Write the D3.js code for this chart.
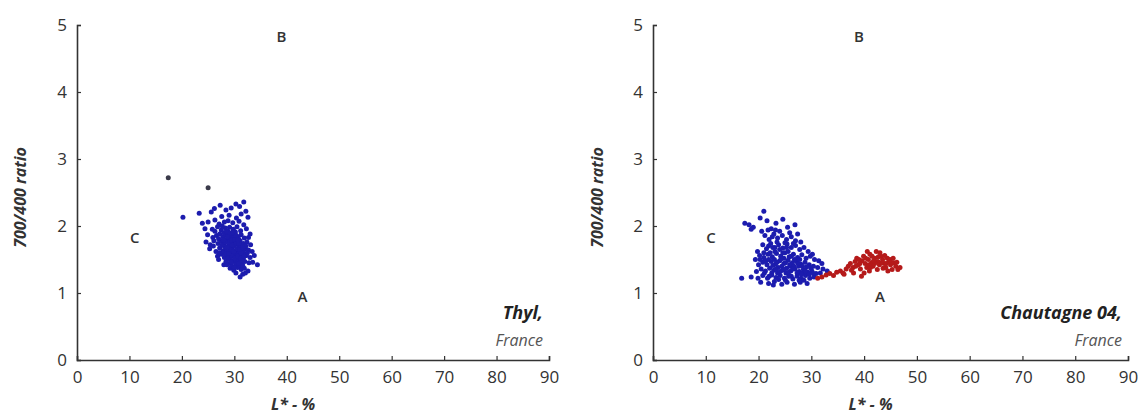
<!DOCTYPE html>
<html><head><meta charset="utf-8">
<script src="https://cdn.jsdelivr.net/npm/d3@7"></script>
<style>body{margin:0;background:#fff}svg{display:block}text{font-family:"Open Sans",sans-serif}</style>
</head><body>
<script>
const xTicks = [0,10,20,30,40,50,60,70,80,90];
const yTicks = [0,1,2,3,4,5];
const xTitle = "L* - %";
const yTitle = "700/400 ratio";
const sites = ["Thyl,", "Chautagne 04,"];
const country = "France";
const zoneLabels = [["B",39,4.8],["C",11,1.8],["A",43,0.93]];

const thylOutliers = [[17.4,2.72],[25.0,2.57]];
const thylBlue = [
[27.3,2.31],[30.3,2.33],[31.0,2.29],[31.8,2.36],[26.2,2.26],[29.4,2.27],[32.2,2.22],
[23.3,2.19],[25.6,2.21],[28.4,2.24],[31.3,2.18],[32.6,2.13],[29.0,2.16],[27.6,2.14],[30.4,2.12],
[20.2,2.13],[23.9,2.04],[25.0,2.06],[26.3,2.09],[28.1,2.06],[28.8,2.08],[29.7,2.05],[30.9,2.07],[31.8,2.02],[27.1,2.03],
[24.4,1.96],[25.8,1.95],[26.8,1.99],[27.5,1.94],[28.3,1.97],[29.1,1.98],[29.8,1.95],[30.5,1.99],[31.2,1.93],[32.3,1.96],[33.0,1.88],[28.8,1.92],
[24.9,1.87],[25.9,1.83],[26.6,1.86],[27.2,1.88],[27.8,1.84],[28.5,1.87],[29.2,1.85],[29.9,1.88],[30.6,1.84],[31.3,1.87],[31.9,1.82],[32.7,1.83],[28.0,1.90],[30.2,1.91],
[24.6,1.76],[25.4,1.72],[26.1,1.78],[26.9,1.74],[27.5,1.77],[28.1,1.73],[28.7,1.78],[29.3,1.75],[29.9,1.77],[30.5,1.73],[31.1,1.78],[31.7,1.74],[32.4,1.76],[33.1,1.72],[28.4,1.80],[30.8,1.81],
[25.3,1.66],[26.5,1.62],[27.2,1.67],[27.8,1.63],[28.4,1.66],[29.0,1.64],[29.6,1.68],[30.2,1.63],[30.8,1.67],[31.4,1.62],[32.0,1.66],[32.7,1.64],[33.4,1.62],[26.0,1.70],[29.3,1.70],[31.1,1.70],
[26.8,1.55],[27.5,1.58],[28.1,1.53],[28.7,1.57],[29.3,1.54],[29.9,1.58],[30.5,1.53],[31.1,1.57],[31.7,1.52],[32.3,1.56],[33.0,1.53],[33.8,1.56],[27.9,1.60],[30.2,1.60],
[27.0,1.50],[28.4,1.47],[29.0,1.44],[29.6,1.48],[30.2,1.45],[30.8,1.48],[31.4,1.44],[32.0,1.47],[32.8,1.45],[33.5,1.46],[34.4,1.42],[28.0,1.42],[31.0,1.40],
[29.2,1.37],[29.9,1.34],[30.6,1.38],[31.3,1.35],[31.9,1.37],[32.6,1.33],[30.3,1.30],[31.6,1.28],[31.1,1.24],[32.1,1.30],
[28.6,1.62],[29.4,1.60],[30.0,1.70],[30.6,1.58],[29.2,1.50],[30.4,1.50],[29.8,1.82],[28.9,1.70],[31.5,1.50],[30.9,1.62],[29.6,1.40],[28.2,1.69],[31.8,1.60],[30.0,1.55],[29.0,1.80],
[28.3,1.58],[28.8,1.52],[29.5,1.56],[30.1,1.52],[30.7,1.55],[31.3,1.60],[29.3,1.65],[29.9,1.62],[30.5,1.66],[31.0,1.65],[28.6,1.68],[29.6,1.72],[30.3,1.75],[30.9,1.74],
[29.0,1.76],[28.3,1.76],[29.5,1.79],[30.1,1.80],[30.7,1.79],[29.2,1.89],[29.7,1.91],[30.4,1.86],[28.7,1.84],[28.9,1.59],[30.4,1.42],[30.9,1.44],[31.6,1.41],[30.0,1.38],
[29.4,1.46],[28.6,1.42],[31.2,1.52],[31.9,1.55],[32.5,1.60],[32.2,1.70],[31.6,1.68],[27.6,1.71],[27.1,1.60],[27.9,1.79],[28.5,1.92],[27.7,2.00],[26.3,1.92],[27.0,1.81]
];

const chautBlue = [
[17.4,2.04],[18.2,2.02],[19.0,1.98],[20.3,2.12],[21.0,2.22],[21.6,2.08],[22.4,1.96],[23.3,2.04],[24.6,2.10],[25.5,1.98],[26.9,2.02],[27.4,1.88],[20.6,1.92],[18.6,1.95],
[21.2,1.86],[22.0,1.80],[22.9,1.88],[23.6,1.82],[24.5,1.86],[25.3,1.80],[26.2,1.84],[27.0,1.78],[28.0,1.76],[24.0,1.92],
[20.8,1.72],[21.5,1.66],[22.3,1.74],[23.1,1.68],[23.8,1.72],[24.6,1.67],[25.4,1.73],[26.2,1.68],[27.0,1.71],[27.8,1.65],[28.6,1.68],[29.4,1.62],[30.2,1.58],[19.8,1.62],
[19.4,1.50],[20.2,1.56],[21.0,1.53],[21.8,1.58],[22.6,1.54],[23.4,1.59],[24.2,1.55],[25.0,1.60],[25.8,1.54],[26.6,1.58],[27.4,1.53],[28.2,1.57],[29.0,1.52],[29.8,1.55],[30.6,1.50],[31.4,1.48],[32.0,1.44],
[20.0,1.42],[20.8,1.46],[21.6,1.42],[22.4,1.47],[23.2,1.43],[24.0,1.48],[24.8,1.44],[25.6,1.49],[26.4,1.45],[27.2,1.47],[28.0,1.43],[28.8,1.46],[29.6,1.42],[30.4,1.40],[31.2,1.38],[32.2,1.36],[33.0,1.33],
[19.6,1.32],[20.5,1.36],[21.3,1.33],[22.1,1.37],[22.9,1.34],[23.7,1.38],[24.5,1.34],[25.3,1.37],[26.1,1.33],[26.9,1.36],[27.7,1.32],[28.5,1.35],[29.3,1.31],[30.1,1.33],[30.9,1.29],[31.7,1.30],
[18.6,1.24],[19.9,1.22],[20.8,1.26],[21.7,1.22],[22.5,1.27],[23.3,1.23],[24.1,1.26],[24.9,1.22],[25.7,1.25],[26.5,1.21],[27.3,1.25],[28.1,1.22],[28.9,1.26],[29.7,1.22],[30.5,1.24],[16.8,1.22],
[20.4,1.16],[21.9,1.14],[23.0,1.17],[24.4,1.13],[25.4,1.16],[26.8,1.13],[27.9,1.16],[29.2,1.14],[22.8,1.12],
[23.0,1.50],[24.4,1.40],[25.2,1.30],[26.0,1.40],[24.8,1.52],[26.8,1.50],[23.6,1.30],[22.2,1.60],[25.6,1.62],[27.6,1.40],[28.4,1.30],[24.0,1.65],[21.4,1.48],
[21.9,1.50],[22.7,1.41],[23.5,1.46],[24.3,1.51],[25.1,1.45],[25.9,1.42],[26.7,1.40],[27.5,1.44],[28.3,1.40],[29.1,1.39],[29.9,1.37],
[22.5,1.30],[23.3,1.36],[24.1,1.32],[24.9,1.35],[25.7,1.31],[26.5,1.36],[27.3,1.30],[28.1,1.28],[28.9,1.33],[29.6,1.28],[30.4,1.29],
[21.1,1.30],[22.0,1.25],[23.8,1.20],[25.1,1.19],[26.2,1.25],[27.7,1.19],[28.6,1.19],[23.1,1.62],[24.6,1.60],[26.2,1.55],[27.8,1.50],[25.3,1.68],[22.7,1.68],
[21.0,1.60],[20.3,1.50],[21.9,1.70],[23.5,1.76],[25.0,1.75],[26.6,1.74],[22.6,1.84],[21.8,1.94],[23.2,1.94],[25.9,1.90]
];

const chautRed = [
[31.2,1.22],[32.0,1.24],[32.8,1.27],[33.5,1.29],[34.2,1.26],[34.8,1.31],[35.5,1.33],[36.0,1.30],[36.6,1.36],[37.0,1.40],[36.2,1.28],
[37.4,1.44],[37.9,1.38],[38.3,1.47],[38.6,1.52],[38.9,1.42],[39.3,1.36],[39.6,1.48],[39.9,1.55],[40.2,1.44],[40.5,1.38],[40.8,1.50],[41.1,1.58],[41.4,1.45],[41.7,1.40],
[42.0,1.52],[42.3,1.62],[42.6,1.47],[42.9,1.42],[43.2,1.55],[43.5,1.50],[43.8,1.44],[44.1,1.38],[44.4,1.52],[44.7,1.47],[45.0,1.42],[45.3,1.35],[45.6,1.45],[46.0,1.40],[46.4,1.35],[46.8,1.38],
[39.5,1.25],[40.0,1.30],[41.0,1.33],[42.5,1.35],[43.6,1.37],[44.5,1.33],[38.0,1.30],[41.5,1.55],[40.6,1.62],[43.0,1.60],[42.0,1.44],[43.9,1.56],[44.9,1.50],[45.5,1.52],[46.2,1.46],[39.0,1.50],[37.6,1.34],
[40.9,1.42],[41.8,1.48],[42.7,1.54],[43.3,1.45],[44.2,1.44],[45.1,1.46],[40.3,1.52],[39.2,1.44],[38.4,1.40],[41.2,1.38]
];

const W = 1145, H = 418;
const svg = d3.select("body").append("svg").attr("width", W).attr("height", H);

const panels = [
  {x0:77, x1:549, site:sites[0], series:[{d:thylBlue,c:"#1c1cae"},{d:thylOutliers,c:"#3a3a4a"}], ytx:21},
  {x0:653, x1:1128, site:sites[1], series:[{d:chautBlue,c:"#1c1cae"},{d:chautRed,c:"#b51a1a"}], ytx:598}
];
const yTop = 25, yBot = 360;

panels.forEach(p => {
  const x = d3.scaleLinear().domain([0,90]).range([p.x0, p.x1]);
  const y = d3.scaleLinear().domain([0,5]).range([yBot, yTop]);
  const g = svg.append("g");

  p.series.forEach(s => {
    g.append("g").selectAll("circle").data(s.d).join("circle")
      .attr("cx", d => x(d[0])).attr("cy", d => y(d[1]))
      .attr("r", 2.5).attr("fill", s.c);
  });

  const xa = g.append("g").attr("transform", `translate(0,${yBot})`)
    .call(d3.axisBottom(x).tickValues(xTicks).tickSize(-4).tickPadding(11).tickFormat(d3.format("d")));
  const ya = g.append("g").attr("transform", `translate(${p.x0},0)`)
    .call(d3.axisLeft(y).tickValues(yTicks).tickSize(-4).tickPadding(10).tickFormat(d3.format("d")));
  [xa, ya].forEach(a => {
    a.select(".domain").attr("stroke", "#333").attr("stroke-width", 1.6);
    a.selectAll(".tick line").attr("stroke", "#333").attr("stroke-width", 1.2);
    a.selectAll(".tick text").attr("fill", "#333").style("font-size", "17px").style("font-family", "'Open Sans',sans-serif");
  });

  g.append("text").attr("x", (p.x0 + p.x1)/2 - 20).attr("y", 410)
    .attr("text-anchor", "middle").attr("fill", "#333")
    .style("font-size", "16px").style("font-weight", "bold").style("font-style", "italic")
    .text(xTitle);
  g.append("text").attr("transform", `translate(${p.ytx + 5},${(yTop+yBot)/2 + 5}) rotate(-90)`)
    .attr("text-anchor", "middle").attr("fill", "#333")
    .style("font-size", "16px").style("font-weight", "bold").style("font-style", "italic")
    .text(yTitle);

  g.selectAll("text.zone").data(zoneLabels).join("text").attr("class","zone")
    .attr("x", d => x(d[1])).attr("y", d => y(d[2]))
    .attr("text-anchor", "middle").attr("dominant-baseline", "middle")
    .attr("fill", "#333").style("font-size", "15px").style("font-weight", "600")
    .text(d => d[0]);

  g.append("text").attr("x", p.x1 - 6).attr("y", 319).attr("text-anchor", "end")
    .attr("fill", "#222").style("font-size", "18px").style("font-weight", "bold").style("font-style", "italic")
    .text(p.site);
  g.append("text").attr("x", p.x1 - 6).attr("y", 346).attr("text-anchor", "end")
    .attr("fill", "#555").style("font-size", "16px").style("font-style", "italic")
    .text(country);
});
</script>
</body></html>
